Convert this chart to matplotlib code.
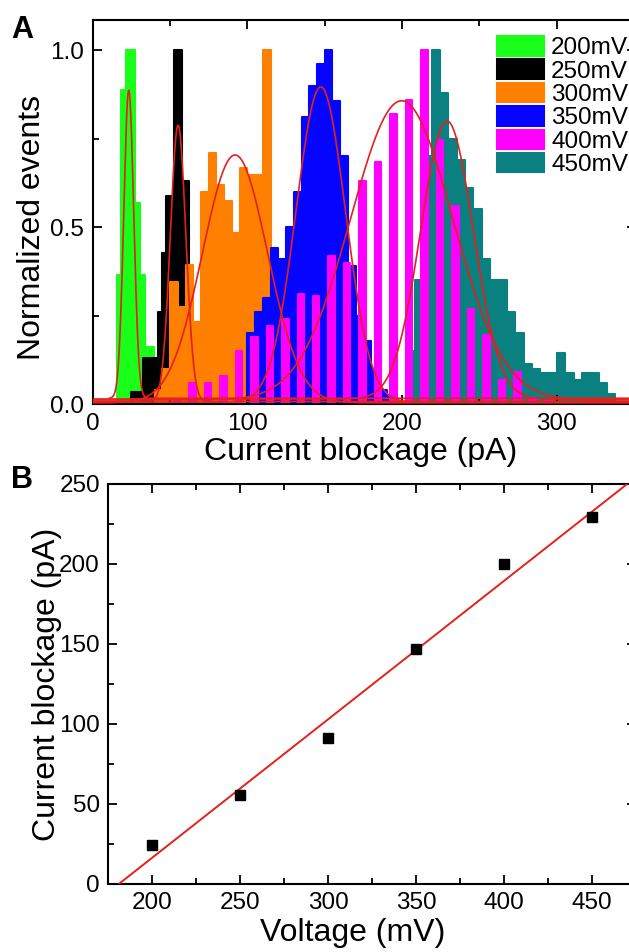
import numpy as np
import matplotlib.pyplot as plt

plt.rcParams['font.family'] = ['Liberation Sans', 'DejaVu Sans']

# ---- panel A: normalized blockage histograms ----
labels = ['200mV', '250mV', '300mV', '350mV', '400mV', '450mV']
colors = ['#19ff19', '#000000', '#ff7f00', '#0505ff', '#ff00ff', '#0a8080']

x200 = [17, 20, 23, 26, 29, 32, 35, 38]
h200 = [0.365, 0.887, 1.0, 1.0, 0.567, 0.365, 0.163, 0.163]

x250 = [26.25, 28.75, 31.25, 33.75, 36.25, 38.75, 41.25, 43.75, 46.25, 48.75,
        51.25, 53.75, 56.25, 58.75, 61.25]
h250 = [0.036, 0.036, 0.036, 0.13, 0.13, 0.13, 0.13, 0.261, 0.426, 0.589,
        0.589, 1.0, 1.0, 0.63, 0.63]

x300 = [42.5, 47.5, 52.5, 57.5, 62.5, 67.5, 72.5, 77.5, 82.5, 87.5,
        92.5, 97.5, 102.5, 107.5, 112.5]
h300 = [0.04, 0.1, 0.346, 0.275, 0.393, 0.233, 0.598, 0.71, 0.619, 0.575,
        0.485, 0.666, 0.646, 0.646, 1.0]

x350 = [102.5, 107.5, 112.5, 117.5, 122.5, 127.5, 132.5, 137.5, 142.5, 147.5,
        152.5, 157.5, 162.5, 167.5, 172.5, 177.5, 182.5, 187.5, 192.5]
h350 = [0.2, 0.26, 0.3, 0.44, 0.41, 0.5, 0.6, 0.81, 0.9, 0.96,
        1.0, 0.855, 0.7, 0.39, 0.25, 0.18, 0.1, 0.04, 0.02]

x400 = [54.5, 64.5, 74.5, 84.5, 94.5, 104.5, 114.5, 124.5, 134.5, 144.5,
        154.5, 164.5, 174.5, 184.5, 194.5, 204.5, 214.5, 224.5, 234.5, 244.5,
        254.5, 264.5, 274.5, 284.5, 294.5]
h400 = [0.01, 0.06, 0.06, 0.08, 0.15, 0.19, 0.22, 0.24, 0.31, 0.305,
        0.42, 0.40, 0.63, 0.685, 0.82, 0.86, 1.0, 0.745, 0.56, 0.27,
        0.195, 0.07, 0.09, 0.015, 0.01]

x450 = [205.6, 211.0, 216.4, 221.8, 227.2, 232.6, 238.0, 243.4, 248.8, 254.2,
        259.6, 265.0, 270.4, 275.8, 281.2, 286.6, 292.0, 297.4, 302.8, 308.2,
        313.6, 319.0, 324.4, 329.8, 335.2]
h450 = [0.15, 0.35, 0.7, 1.0, 0.88, 0.75, 0.69, 0.61, 0.55, 0.41,
        0.35, 0.35, 0.26, 0.2, 0.115, 0.1, 0.088, 0.088, 0.144, 0.088,
        0.07, 0.088, 0.088, 0.059, 0.03]

# gaussian fits (200 ... 450 mV)
fit_center = [23.3, 55.2, 92.0, 147.4, 199.7, 229.0]
fit_amp = [0.87, 0.78, 0.70, 0.89, 0.845, 0.785]
fit_sigma = [3.2, 5.0, 21.0, 16.0, 33.0, 17.0]
fit_base = [0.017, 0.008, 0.004, 0.006, 0.012, 0.015]
fit_start = [11, 0, 0, 0, 0, 0]

# ---- panel B: blockage vs voltage ----
voltage = [200, 250, 300, 350, 400, 450]
blockage = [24.5, 55.5, 91.2, 147.1, 199.7, 229.6]

W, H = 629, 952
xmaxA = 351
xmaxB = 474
fig = plt.figure(figsize=(W / 100, H / 100), dpi=100)
axA = fig.add_axes([92.7 / W, (H - 404.3) / H, xmaxA * 1.547 / W, 384.3 / H])
axB = fig.add_axes([108.3 / W, (H - 884) / H, (xmaxB - 175) * 1.765 / W, 400 / H])


def draw_hist(ax, x, h, w, color, label):
    bars = ax.bar(x, h, width=w, color=color, edgecolor=color, linewidth=1.5,
                  label=label)
    for b in bars:
        b.set_joinstyle('round')
    return bars


hists = {}
hists['200mV'] = draw_hist(axA, x200, h200, 3.0, colors[0], labels[0])
hists['250mV'] = draw_hist(axA, x250, h250, 2.5, colors[1], labels[1])
hists['300mV'] = draw_hist(axA, x300, h300, 5.0, colors[2], labels[2])
hists['450mV'] = draw_hist(axA, x450, h450, 5.4, colors[5], labels[5])
hists['350mV'] = draw_hist(axA, x350, h350, 5.0, colors[3], labels[3])
hists['400mV'] = draw_hist(axA, x400, h400, 4.2, colors[4], labels[4])

for c, a, s, b, x0 in zip(fit_center, fit_amp, fit_sigma, fit_base, fit_start):
    xx = np.linspace(x0, xmaxA, 800)
    axA.plot(xx, b + a * np.exp(-(xx - c) ** 2 / (2 * s ** 2)),
             color='#e4201c', lw=1.2, zorder=5)

axA.set_xlim(0, xmaxA)
axA.set_ylim(0, 1.085)
axA.set_xticks([0, 100, 200, 300])
axA.set_xticks([50, 150, 250], minor=True)
axA.set_yticks([0, 0.5, 1.0])
axA.set_yticklabels(['0.0', '0.5', '1.0'])
axA.set_yticks([0.25, 0.75], minor=True)
axA.set_xlabel('Current blockage (pA)', fontsize=23)
axA.set_ylabel('Normalized events', fontsize=23)
axA.xaxis.set_label_coords(268.3 / (xmaxA * 1.547), -0.085)
axA.yaxis.set_label_coords(-0.085, 0.46)

axA.legend([hists[l] for l in labels], labels, loc='upper left',
           bbox_to_anchor=(404.3 / (xmaxA * 1.547), 0.958), frameon=False,
           fontsize=17.5, handlelength=1.95, handleheight=0.85,
           labelspacing=0.01, handletextpad=0.28, borderaxespad=0,
           borderpad=0)

# panel B
axB.plot(voltage, blockage, 's', color='black', ms=7.5, zorder=4)
m, q = np.polyfit(voltage, blockage, 1)
xl = np.array([-q / m, xmaxB])
axB.plot(xl, m * xl + q, color='#e4201c', lw=1.4, zorder=3)
axB.set_xlim(175, xmaxB)
axB.set_ylim(0, 250)
axB.set_xticks([200, 250, 300, 350, 400, 450])
axB.set_xticks([225, 275, 325, 375, 425, 475], minor=True)
axB.set_yticks([0, 50, 100, 150, 200, 250])
axB.set_yticks([25, 75, 125, 175, 225], minor=True)
axB.set_xlabel('Voltage (mV)', fontsize=23)
axB.set_ylabel('Current blockage (pA)', fontsize=23)
axB.xaxis.set_label_coords(244.7 / ((xmaxB - 175) * 1.765), -0.085)
axB.yaxis.set_label_coords(-0.0886, 0.5)

for ax in (axA, axB):
    ax.tick_params(which='both', direction='in', top=True, right=True,
                   labelsize=17.5, width=1.3, pad=6)
    ax.tick_params(which='major', length=6.5)
    ax.tick_params(which='minor', length=4)
    for sp in ax.spines.values():
        sp.set_linewidth(1.5)

fig.text(22 / W, 1 - 30 / H, 'A', fontsize=22, fontweight='bold',
         ha='center', va='center')
fig.text(22 / W, 1 - 480 / H, 'B', fontsize=22, fontweight='bold',
         ha='center', va='center')

fig.savefig('out.png', dpi=100)
